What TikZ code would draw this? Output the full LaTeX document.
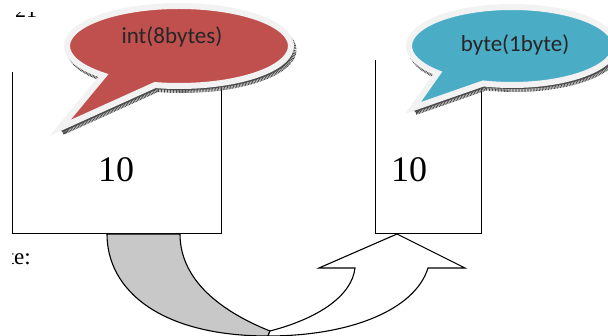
\documentclass[tikz,border=0pt]{standalone}
\usepackage{fontspec}
\setmainfont{Liberation Serif}
\newfontfamily\bubblefont{Carlito}
\usetikzlibrary{shapes.callouts,shadows}

\definecolor{intred}{HTML}{C0504D}
\definecolor{byteblue}{HTML}{4BACC6}
\definecolor{bubbleedge}{HTML}{F2F2F2}
\definecolor{foldgray}{HTML}{C8C8C8}

\tikzset{
  bubble/.style={ellipse callout, inner sep=0pt, draw=bubbleedge, line width=6pt,
    callout pointer arc=30,
    general shadow={shadow xshift=2.5pt, shadow yshift=-4pt, draw=black!70, fill=black!70,
      line width=6pt, dash pattern=on 0.8pt off 0.7pt}},
  bubbletext/.style={font=\bubblefont\fontsize{23}{26}\selectfont, text=black!85, inner sep=0pt},
  cell/.style={line width=1pt, draw=black},
  value/.style={font=\fontsize{36}{40}\selectfont, inner sep=0pt},
  prose/.style={inner sep=0pt},
  uturn/.style={line width=1.1pt, draw=black, line join=miter}
}

\begin{document}
\begin{tikzpicture}[x=1pt,y=-1pt]
\useasboundingbox (0,0) rectangle (608,336);

% fragments of the surrounding text
\begin{scope}
  \clip (0,12.5) rectangle (60,17.5);
  \node[prose, anchor=base west, font=\fontsize{22}{26}\selectfont] (toptext) at (15,17.5) {21};
\end{scope}
\begin{scope}
  \clip (12,240) rectangle (60,280);
  \node[prose, anchor=base east, font=\fontsize{23}{27}\selectfont] (sizetext) at (31,265) {te:};
\end{scope}

% open-topped cells
\draw[cell] (12,72) |- (221,234) -- (221,88);
\draw[cell] (375,60) |- (481,234) -- (481,88);
\node[value] (intval) at (116,170) {10};
\node[value] (byteval) at (409,170) {10};

% U-turn arrow: back face
\path[uturn, fill=foldgray]
  (107,234) -- (180,234)
  .. controls (180,285) and (230,315) .. (270,331)
  -- (268,336)
  .. controls (160,336) and (107,290) .. (107,234) -- cycle;
% U-turn arrow: front face with head
\path[uturn, fill=white]
  (270,331) .. controls (320,318) and (352,295) .. (355,268)
  -- (319,268) -- (397,234) -- (465,268) -- (428,268)
  .. controls (415,310) and (350,336) .. (268,336) -- cycle;

% speech bubbles
\node[bubble, fill=intred, minimum width=224pt, minimum height=80pt,
      callout absolute pointer={(60,128)}] (intbubble) at (179,46) {};
\node[bubbletext] (intlabel) at (172,37) {int(8bytes)};

\node[bubble, fill=byteblue, minimum width=206pt, minimum height=78pt,
      callout absolute pointer={(413,108)}] (bytebubble) at (512,46) {};
\node[bubbletext] (bytelabel) at (515,45) {byte(1byte)};
\end{tikzpicture}
\end{document}
